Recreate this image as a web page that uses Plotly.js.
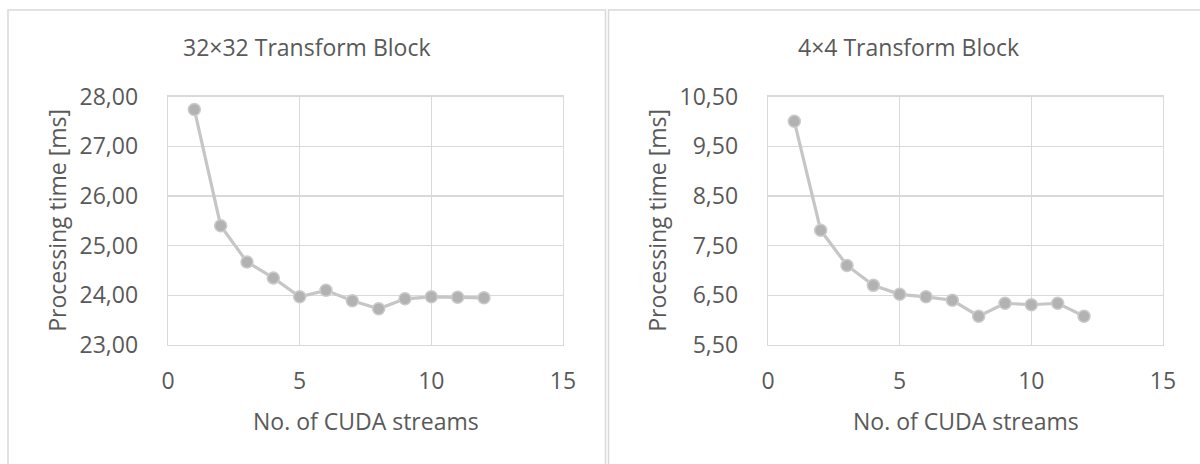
<!DOCTYPE html>
<html>
<head>
<meta charset="utf-8">
<script src="https://cdn.plot.ly/plotly-3.0.1.min.js"></script>
<style>
html,body{margin:0;padding:0;background:#fff;}
#chart{width:1200px;height:464px;}
</style>
</head>
<body>
<div id="chart"></div>
<script>
// ---- data ----
const streams = [1, 2, 3, 4, 5, 6, 7, 8, 9, 10, 11, 12];
const time32x32 = [27.74, 25.40, 24.67, 24.35, 23.97, 24.10, 23.89, 23.73, 23.93, 23.97, 23.96, 23.95];
const time4x4 = [10.00, 7.81, 7.10, 6.70, 6.52, 6.47, 6.40, 6.08, 6.34, 6.31, 6.34, 6.08];
const panelTitles = ["32×32 Transform Block", "4×4 Transform Block"];
const xTitle = "No. of CUDA streams";
const yTitle = "Processing time [ms]";

const W = 1200, H = 464;
const txt = '#595959', grid = '#d9d9d9';
const font = {family: '"Open Sans", "Noto Sans", sans-serif', size: 23, color: txt};

function px(x){ return x / W; }
function py(y){ return 1 - y / H; }

const lineStyle = {color: '#c6c6c6', width: 3.2};
const markerStyle = {size: 12, color: '#b2b2b2', line: {color: '#cbcbcb', width: 1.5}};

const traces = [
  {x: streams, y: time32x32, xaxis: 'x', yaxis: 'y', mode: 'lines+markers', line: lineStyle, marker: markerStyle, hoverinfo: 'x+y'},
  {x: streams, y: time4x4, xaxis: 'x2', yaxis: 'y2', mode: 'lines+markers', line: lineStyle, marker: markerStyle, hoverinfo: 'x+y'}
];

const plotTop = 96.5, plotBottom = 345;
const L1 = [168, 563], L2 = [768, 1163];

function xa(dom, anchor){
  return {domain: [px(dom[0]), px(dom[1])], anchor: anchor, range: [0, 15], tick0: 0, dtick: 5,
    showgrid: true, gridcolor: grid, gridwidth: 1.3, zeroline: false,
    showline: true, linecolor: grid, linewidth: 1.3, mirror: true,
    ticks: 'outside', ticklen: 15, tickcolor: 'rgba(0,0,0,0)', tickfont: font, fixedrange: true};
}
function ya(range, anchor, tick0){
  return {domain: [py(plotBottom), py(plotTop)], anchor: anchor, range: range, tick0: tick0, dtick: 1,
    tickformat: '.2f', showgrid: true, gridcolor: grid, gridwidth: 1.3, zeroline: false,
    showline: true, linecolor: grid, linewidth: 1.3, mirror: true,
    ticks: 'outside', ticklen: 24, tickcolor: 'rgba(0,0,0,0)', tickfont: font, fixedrange: true};
}

const annotations = [];
const titleCenters = [307, 908];
const plotCenters = [(L1[0]+L1[1])/2, (L2[0]+L2[1])/2];
const yTitleX = [57, 657];
for (let i = 0; i < 2; i++) {
  annotations.push({text: panelTitles[i], xref: 'paper', yref: 'paper', x: px(titleCenters[i]), y: py(47),
    xanchor: 'center', yanchor: 'middle', showarrow: false, font: font});
  annotations.push({text: xTitle, xref: 'paper', yref: 'paper', x: px(plotCenters[i]), y: py(421),
    xanchor: 'center', yanchor: 'middle', showarrow: false, font: font});
  annotations.push({text: yTitle, xref: 'paper', yref: 'paper', x: px(yTitleX[i]), y: py((plotTop+plotBottom)/2),
    xanchor: 'center', yanchor: 'middle', textangle: -90, showarrow: false, font: font});
}

const shapes = [
  {type: 'rect', xref: 'paper', yref: 'paper', x0: px(8), x1: px(605.5), y0: py(480), y1: py(10),
    line: {color: '#d9d9d9', width: 1.5}, fillcolor: 'rgba(0,0,0,0)', layer: 'below'},
  {type: 'rect', xref: 'paper', yref: 'paper', x0: px(608.5), x1: px(1215), y0: py(480), y1: py(10),
    line: {color: '#d9d9d9', width: 1.5}, fillcolor: 'rgba(0,0,0,0)', layer: 'below'}
];

const layout = {
  width: W, height: H,
  margin: {l: 0, r: 0, t: 0, b: 0},
  paper_bgcolor: '#ffffff', plot_bgcolor: '#ffffff',
  showlegend: false,
  separators: ',.',
  font: font,
  xaxis: xa(L1, 'y'),
  yaxis: ya([23, 28], 'x', 23),
  xaxis2: xa(L2, 'y2'),
  yaxis2: ya([5.5, 10.5], 'x2', 5.5),
  annotations: annotations,
  shapes: shapes
};

Plotly.newPlot('chart', traces, layout, {displayModeBar: false, staticPlot: true});
</script>
</body>
</html>
